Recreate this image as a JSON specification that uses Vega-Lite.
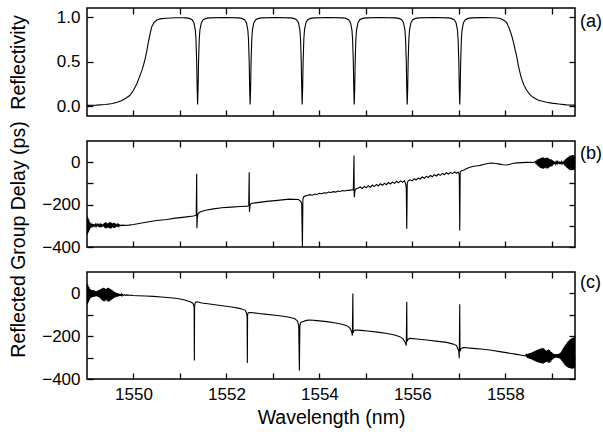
{
"$schema": "https://vega.github.io/schema/vega-lite/v6.json",
"padding": {"left": 7, "top": 6, "right": 0, "bottom": 5},
"background": "white",
"spacing": 25,
"bounds": "flush",
"config": {
  "view": {"stroke": "black", "strokeWidth": 1.5},
  "font": "Liberation Sans",
  "axis": {"grid": false, "domain": false, "tickColor": "black", "tickWidth": 1.3, "tickSize": -6,
    "labelFont": "Liberation Sans", "labelFontSize": 17, "labelColor": "black", "labelPadding": 13,
    "titleFont": "Liberation Sans", "titleFontSize": 19.5, "titleFontWeight": "normal", "titleColor": "black"}
},
"datasets": {
"refl": [
{"wl":1549.00,"r":0.01},{"wl":1549.20,"r":0.012},{"wl":1549.40,"r":0.02},{"wl":1549.55,"r":0.03},{"wl":1549.65,"r":0.045},{"wl":1549.75,"r":0.065},{"wl":1549.85,"r":0.095},{"wl":1549.92,"r":0.12},{"wl":1550.00,"r":0.18},{"wl":1550.07,"r":0.25},{"wl":1550.13,"r":0.33},{"wl":1550.18,"r":0.40},{"wl":1550.22,"r":0.47},{"wl":1550.25,"r":0.53},{"wl":1550.29,"r":0.63},{"wl":1550.32,"r":0.72},{"wl":1550.36,"r":0.82},{"wl":1550.39,"r":0.89},{"wl":1550.44,"r":0.94},{"wl":1550.50,"r":0.97},{"wl":1550.60,"r":0.985},{"wl":1550.72,"r":0.99},{"wl":1550.90,"r":0.995},{"wl":1551.05,"r":0.996},
{"wl":1551.13,"r":0.994},{"wl":1551.20,"r":0.988},{"wl":1551.26,"r":0.973},{"wl":1551.30,"r":0.94},{"wl":1551.33,"r":0.86},{"wl":1551.345,"r":0.75},{"wl":1551.36,"r":0.5},{"wl":1551.37,"r":0.2},{"wl":1551.38,"r":0.02},{"wl":1551.39,"r":0.2},{"wl":1551.40,"r":0.5},{"wl":1551.415,"r":0.75},{"wl":1551.43,"r":0.86},{"wl":1551.46,"r":0.94},{"wl":1551.50,"r":0.973},{"wl":1551.56,"r":0.988},{"wl":1551.63,"r":0.994},{"wl":1551.945,"r":0.998},
{"wl":1552.26,"r":0.994},{"wl":1552.33,"r":0.988},{"wl":1552.39,"r":0.973},{"wl":1552.43,"r":0.94},{"wl":1552.46,"r":0.86},{"wl":1552.475,"r":0.75},{"wl":1552.49,"r":0.5},{"wl":1552.50,"r":0.2},{"wl":1552.51,"r":0.02},{"wl":1552.52,"r":0.2},{"wl":1552.53,"r":0.5},{"wl":1552.545,"r":0.75},{"wl":1552.56,"r":0.86},{"wl":1552.59,"r":0.94},{"wl":1552.63,"r":0.973},{"wl":1552.69,"r":0.988},{"wl":1552.76,"r":0.994},{"wl":1553.07,"r":0.998},
{"wl":1553.38,"r":0.994},{"wl":1553.45,"r":0.988},{"wl":1553.51,"r":0.973},{"wl":1553.55,"r":0.94},{"wl":1553.58,"r":0.86},{"wl":1553.595,"r":0.75},{"wl":1553.61,"r":0.5},{"wl":1553.62,"r":0.2},{"wl":1553.63,"r":0.02},{"wl":1553.64,"r":0.2},{"wl":1553.65,"r":0.5},{"wl":1553.665,"r":0.75},{"wl":1553.68,"r":0.86},{"wl":1553.71,"r":0.94},{"wl":1553.75,"r":0.973},{"wl":1553.81,"r":0.988},{"wl":1553.88,"r":0.994},{"wl":1554.19,"r":0.998},
{"wl":1554.50,"r":0.994},{"wl":1554.57,"r":0.988},{"wl":1554.63,"r":0.973},{"wl":1554.67,"r":0.94},{"wl":1554.70,"r":0.86},{"wl":1554.715,"r":0.75},{"wl":1554.73,"r":0.5},{"wl":1554.74,"r":0.2},{"wl":1554.75,"r":0.02},{"wl":1554.76,"r":0.2},{"wl":1554.77,"r":0.5},{"wl":1554.785,"r":0.75},{"wl":1554.80,"r":0.86},{"wl":1554.83,"r":0.94},{"wl":1554.87,"r":0.973},{"wl":1554.93,"r":0.988},{"wl":1555.00,"r":0.994},{"wl":1555.32,"r":0.998},
{"wl":1555.64,"r":0.994},{"wl":1555.71,"r":0.988},{"wl":1555.77,"r":0.973},{"wl":1555.81,"r":0.94},{"wl":1555.84,"r":0.86},{"wl":1555.855,"r":0.75},{"wl":1555.87,"r":0.5},{"wl":1555.88,"r":0.2},{"wl":1555.89,"r":0.02},{"wl":1555.90,"r":0.2},{"wl":1555.91,"r":0.5},{"wl":1555.925,"r":0.75},{"wl":1555.94,"r":0.86},{"wl":1555.97,"r":0.94},{"wl":1556.01,"r":0.973},{"wl":1556.07,"r":0.988},{"wl":1556.14,"r":0.994},{"wl":1556.455,"r":0.998},
{"wl":1556.77,"r":0.994},{"wl":1556.84,"r":0.988},{"wl":1556.90,"r":0.973},{"wl":1556.94,"r":0.94},{"wl":1556.97,"r":0.86},{"wl":1556.985,"r":0.75},{"wl":1557.00,"r":0.5},{"wl":1557.01,"r":0.2},{"wl":1557.02,"r":0.02},{"wl":1557.03,"r":0.2},{"wl":1557.04,"r":0.5},{"wl":1557.055,"r":0.75},{"wl":1557.07,"r":0.86},{"wl":1557.10,"r":0.94},{"wl":1557.14,"r":0.973},{"wl":1557.20,"r":0.988},{"wl":1557.27,"r":0.994},
{"wl":1557.50,"r":0.997},{"wl":1557.75,"r":0.995},{"wl":1557.88,"r":0.99},{"wl":1557.96,"r":0.97},{"wl":1558.03,"r":0.94},{"wl":1558.09,"r":0.87},{"wl":1558.14,"r":0.79},{"wl":1558.18,"r":0.71},{"wl":1558.21,"r":0.64},{"wl":1558.25,"r":0.55},{"wl":1558.28,"r":0.46},{"wl":1558.32,"r":0.37},{"wl":1558.35,"r":0.31},{"wl":1558.40,"r":0.24},{"wl":1558.46,"r":0.18},{"wl":1558.53,"r":0.13},{"wl":1558.60,"r":0.10},{"wl":1558.70,"r":0.07},{"wl":1558.80,"r":0.055},{"wl":1558.89,"r":0.045},{"wl":1559.00,"r":0.035},{"wl":1559.15,"r":0.025},{"wl":1559.32,"r":0.015},{"wl":1559.50,"r":0.012}
],
"gdb": [
{"wl":1549.00,"gd":-255},{"wl":1549.01,"gd":-340},{"wl":1549.02,"gd":-262},{"wl":1549.03,"gd":-332},{"wl":1549.04,"gd":-270},{"wl":1549.05,"gd":-322},{"wl":1549.06,"gd":-282},{"wl":1549.07,"gd":-312},{"wl":1549.08,"gd":-288},{"wl":1549.09,"gd":-308},{"wl":1549.10,"gd":-290},{"wl":1549.11,"gd":-306},{"wl":1549.12,"gd":-291},{"wl":1549.13,"gd":-305},{"wl":1549.14,"gd":-292},{"wl":1549.15,"gd":-304},{"wl":1549.16,"gd":-293},{"wl":1549.17,"gd":-303},{"wl":1549.18,"gd":-294},{"wl":1549.19,"gd":-302},{"wl":1549.20,"gd":-295},{"wl":1549.21,"gd":-301},{"wl":1549.22,"gd":-294},{"wl":1549.23,"gd":-302},{"wl":1549.24,"gd":-292},{"wl":1549.25,"gd":-304},{"wl":1549.26,"gd":-290},{"wl":1549.27,"gd":-306},{"wl":1549.28,"gd":-289},{"wl":1549.29,"gd":-307},{"wl":1549.30,"gd":-290},{"wl":1549.31,"gd":-306},{"wl":1549.32,"gd":-292},{"wl":1549.33,"gd":-304},{"wl":1549.34,"gd":-294},{"wl":1549.35,"gd":-302},{"wl":1549.36,"gd":-290},{"wl":1549.37,"gd":-306},{"wl":1549.38,"gd":-286},{"wl":1549.39,"gd":-310},{"wl":1549.40,"gd":-284},{"wl":1549.41,"gd":-312},{"wl":1549.42,"gd":-286},{"wl":1549.43,"gd":-310},{"wl":1549.44,"gd":-290},{"wl":1549.45,"gd":-306},{"wl":1549.46,"gd":-287},{"wl":1549.47,"gd":-310},{"wl":1549.48,"gd":-284},{"wl":1549.49,"gd":-313},{"wl":1549.50,"gd":-283},{"wl":1549.51,"gd":-313},{"wl":1549.52,"gd":-285},{"wl":1549.53,"gd":-311},{"wl":1549.54,"gd":-289},{"wl":1549.55,"gd":-307},{"wl":1549.56,"gd":-287},{"wl":1549.57,"gd":-309},{"wl":1549.58,"gd":-286},{"wl":1549.59,"gd":-310},{"wl":1549.60,"gd":-288},{"wl":1549.61,"gd":-308},{"wl":1549.62,"gd":-291},{"wl":1549.63,"gd":-305},{"wl":1549.64,"gd":-293},{"wl":1549.65,"gd":-303},{"wl":1549.66,"gd":-294},{"wl":1549.67,"gd":-302},{"wl":1549.68,"gd":-295},{"wl":1549.69,"gd":-301},{"wl":1549.70,"gd":-296},{"wl":1549.72,"gd":-299},{"wl":1549.75,"gd":-297},{"wl":1549.80,"gd":-298},
{"wl":1549.90,"gd":-297},{"wl":1550.00,"gd":-294},{"wl":1550.15,"gd":-288},{"wl":1550.30,"gd":-282},{"wl":1550.50,"gd":-275},{"wl":1550.72,"gd":-270},{"wl":1550.90,"gd":-264},{"wl":1551.10,"gd":-259},{"wl":1551.29,"gd":-254},{"wl":1551.35,"gd":-250},{"wl":1551.36,"gd":-55},{"wl":1551.365,"gd":-311},{"wl":1551.375,"gd":-260},{"wl":1551.39,"gd":-242},{"wl":1551.43,"gd":-235},{"wl":1551.55,"gd":-227},{"wl":1551.72,"gd":-220},{"wl":1551.90,"gd":-215},{"wl":1552.10,"gd":-212},{"wl":1552.30,"gd":-209},{"wl":1552.45,"gd":-207},{"wl":1552.48,"gd":-205},{"wl":1552.49,"gd":-47},{"wl":1552.495,"gd":-235},{"wl":1552.51,"gd":-200},{"wl":1552.55,"gd":-194},{"wl":1552.62,"gd":-192},{"wl":1552.87,"gd":-185},{"wl":1553.10,"gd":-180},{"wl":1553.35,"gd":-174},{"wl":1553.55,"gd":-176},{"wl":1553.60,"gd":-185},{"wl":1553.62,"gd":-196},{"wl":1553.635,"gd":-400},{"wl":1553.645,"gd":-175},{"wl":1553.66,"gd":-164},{"wl":1553.69,"gd":-160},{"wl":1553.75,"gd":-156},{"wl":1553.80,"gd":-153},{"wl":1553.85,"gd":-156},{"wl":1553.90,"gd":-150},{"wl":1553.95,"gd":-152},{"wl":1554.00,"gd":-147},{"wl":1554.05,"gd":-149},{"wl":1554.10,"gd":-144},{"wl":1554.15,"gd":-146},{"wl":1554.20,"gd":-141},{"wl":1554.25,"gd":-143},{"wl":1554.30,"gd":-139},{"wl":1554.35,"gd":-141},{"wl":1554.40,"gd":-136},{"wl":1554.45,"gd":-138},{"wl":1554.50,"gd":-134},{"wl":1554.55,"gd":-136},{"wl":1554.60,"gd":-132},{"wl":1554.65,"gd":-133},{"wl":1554.70,"gd":-130},{"wl":1554.73,"gd":-131},{"wl":1554.745,"gd":31},{"wl":1554.75,"gd":-165},{"wl":1554.765,"gd":-135},{"wl":1554.79,"gd":-125},{"wl":1554.84,"gd":-122},
{"wl":1554.88,"gd":-117},{"wl":1554.92,"gd":-124},{"wl":1554.97,"gd":-114},{"wl":1555.01,"gd":-121},{"wl":1555.05,"gd":-111},{"wl":1555.10,"gd":-118},{"wl":1555.14,"gd":-108},{"wl":1555.18,"gd":-115},{"wl":1555.23,"gd":-105},{"wl":1555.27,"gd":-112},{"wl":1555.31,"gd":-102},{"wl":1555.36,"gd":-109},{"wl":1555.40,"gd":-99},{"wl":1555.44,"gd":-106},{"wl":1555.49,"gd":-96},{"wl":1555.53,"gd":-103},{"wl":1555.57,"gd":-93},{"wl":1555.62,"gd":-100},{"wl":1555.66,"gd":-90},{"wl":1555.70,"gd":-97},{"wl":1555.75,"gd":-88},{"wl":1555.79,"gd":-95},{"wl":1555.83,"gd":-87},{"wl":1555.86,"gd":-105},{"wl":1555.87,"gd":-125},{"wl":1555.88,"gd":-314},{"wl":1555.89,"gd":-100},{"wl":1555.91,"gd":-88},{"wl":1555.95,"gd":-83},
{"wl":1556.00,"gd":-88},{"wl":1556.04,"gd":-78},{"wl":1556.08,"gd":-84},{"wl":1556.13,"gd":-74},{"wl":1556.17,"gd":-80},{"wl":1556.21,"gd":-70},{"wl":1556.26,"gd":-76},{"wl":1556.30,"gd":-66},{"wl":1556.34,"gd":-72},{"wl":1556.39,"gd":-63},{"wl":1556.43,"gd":-69},{"wl":1556.47,"gd":-59},{"wl":1556.52,"gd":-65},{"wl":1556.56,"gd":-56},{"wl":1556.60,"gd":-62},{"wl":1556.65,"gd":-53},{"wl":1556.69,"gd":-59},{"wl":1556.73,"gd":-50},{"wl":1556.78,"gd":-56},{"wl":1556.82,"gd":-48},{"wl":1556.86,"gd":-54},{"wl":1556.91,"gd":-46},{"wl":1556.95,"gd":-51},{"wl":1556.99,"gd":-47},{"wl":1557.01,"gd":-60},{"wl":1557.02,"gd":-322},{"wl":1557.03,"gd":-45},{"wl":1557.06,"gd":-40},{"wl":1557.10,"gd":-38},{"wl":1557.17,"gd":-30},{"wl":1557.24,"gd":-24},{"wl":1557.32,"gd":-19},{"wl":1557.40,"gd":-17},{"wl":1557.46,"gd":-15},{"wl":1557.55,"gd":-10},{"wl":1557.62,"gd":-6},{"wl":1557.70,"gd":-4},{"wl":1557.80,"gd":-6},{"wl":1557.88,"gd":-9},{"wl":1557.95,"gd":-12},{"wl":1558.03,"gd":-13},{"wl":1558.10,"gd":-10},{"wl":1558.18,"gd":-5},{"wl":1558.25,"gd":-3},{"wl":1558.35,"gd":-2},{"wl":1558.45,"gd":-1},{"wl":1558.53,"gd":0},{"wl":1558.60,"gd":-2},
{"wl":1558.65,"gd":4},{"wl":1558.66,"gd":-8},{"wl":1558.67,"gd":8},{"wl":1558.68,"gd":-12},{"wl":1558.69,"gd":12},{"wl":1558.70,"gd":-16},{"wl":1558.71,"gd":14},{"wl":1558.72,"gd":-20},{"wl":1558.73,"gd":16},{"wl":1558.74,"gd":-24},{"wl":1558.75,"gd":18},{"wl":1558.76,"gd":-27},{"wl":1558.77,"gd":20},{"wl":1558.78,"gd":-29},{"wl":1558.79,"gd":22},{"wl":1558.80,"gd":-30},{"wl":1558.81,"gd":23},{"wl":1558.82,"gd":-31},{"wl":1558.83,"gd":21},{"wl":1558.84,"gd":-28},{"wl":1558.85,"gd":18},{"wl":1558.86,"gd":-25},{"wl":1558.87,"gd":20},{"wl":1558.88,"gd":-28},{"wl":1558.89,"gd":22},{"wl":1558.90,"gd":-30},{"wl":1558.91,"gd":21},{"wl":1558.92,"gd":-28},{"wl":1558.93,"gd":18},{"wl":1558.94,"gd":-25},{"wl":1558.95,"gd":15},{"wl":1558.96,"gd":-22},{"wl":1558.97,"gd":12},{"wl":1558.98,"gd":-18},{"wl":1558.99,"gd":14},{"wl":1559.00,"gd":-20},{"wl":1559.01,"gd":10},{"wl":1559.02,"gd":-15},{"wl":1559.03,"gd":6},{"wl":1559.04,"gd":-11},{"wl":1559.05,"gd":3},{"wl":1559.06,"gd":-8},{"wl":1559.07,"gd":2},{"wl":1559.08,"gd":-7},{"wl":1559.09,"gd":1},{"wl":1559.10,"gd":-6},{"wl":1559.11,"gd":1},{"wl":1559.12,"gd":-6},{"wl":1559.13,"gd":2},{"wl":1559.14,"gd":-7},{"wl":1559.15,"gd":2},{"wl":1559.16,"gd":-8},{"wl":1559.17,"gd":3},{"wl":1559.18,"gd":-9},{"wl":1559.19,"gd":2},{"wl":1559.20,"gd":-8},{"wl":1559.21,"gd":1},{"wl":1559.22,"gd":-7},{"wl":1559.23,"gd":2},{"wl":1559.24,"gd":-8},{"wl":1559.25,"gd":4},{"wl":1559.26,"gd":-11},{"wl":1559.27,"gd":8},{"wl":1559.28,"gd":-15},{"wl":1559.29,"gd":12},{"wl":1559.30,"gd":-20},{"wl":1559.31,"gd":16},{"wl":1559.32,"gd":-25},{"wl":1559.33,"gd":20},{"wl":1559.34,"gd":-29},{"wl":1559.35,"gd":24},{"wl":1559.36,"gd":-32},{"wl":1559.37,"gd":27},{"wl":1559.38,"gd":-35},{"wl":1559.39,"gd":30},{"wl":1559.40,"gd":-37},{"wl":1559.41,"gd":32},{"wl":1559.42,"gd":-38},{"wl":1559.43,"gd":33},{"wl":1559.44,"gd":-38},{"wl":1559.45,"gd":34},{"wl":1559.46,"gd":-37},{"wl":1559.47,"gd":33},{"wl":1559.48,"gd":-36},{"wl":1559.49,"gd":30},{"wl":1559.50,"gd":-32}
],
"gdc": [
{"wl":1549.00,"gd":45},{"wl":1549.01,"gd":-50},{"wl":1549.02,"gd":40},{"wl":1549.03,"gd":-42},{"wl":1549.04,"gd":30},{"wl":1549.05,"gd":-32},{"wl":1549.06,"gd":22},{"wl":1549.07,"gd":-24},{"wl":1549.08,"gd":18},{"wl":1549.09,"gd":-20},{"wl":1549.10,"gd":16},{"wl":1549.11,"gd":-18},{"wl":1549.12,"gd":15},{"wl":1549.13,"gd":-17},{"wl":1549.14,"gd":14},{"wl":1549.15,"gd":-16},{"wl":1549.16,"gd":13},{"wl":1549.17,"gd":-15},{"wl":1549.18,"gd":11},{"wl":1549.19,"gd":-13},{"wl":1549.20,"gd":10},{"wl":1549.21,"gd":-13},{"wl":1549.22,"gd":12},{"wl":1549.23,"gd":-15},{"wl":1549.24,"gd":14},{"wl":1549.25,"gd":-17},{"wl":1549.26,"gd":16},{"wl":1549.27,"gd":-20},{"wl":1549.28,"gd":18},{"wl":1549.29,"gd":-24},{"wl":1549.30,"gd":20},{"wl":1549.31,"gd":-28},{"wl":1549.32,"gd":23},{"wl":1549.33,"gd":-32},{"wl":1549.34,"gd":25},{"wl":1549.35,"gd":-36},{"wl":1549.36,"gd":26},{"wl":1549.37,"gd":-38},{"wl":1549.38,"gd":24},{"wl":1549.39,"gd":-34},{"wl":1549.40,"gd":20},{"wl":1549.41,"gd":-30},{"wl":1549.42,"gd":22},{"wl":1549.43,"gd":-34},{"wl":1549.44,"gd":25},{"wl":1549.45,"gd":-38},{"wl":1549.46,"gd":26},{"wl":1549.47,"gd":-39},{"wl":1549.48,"gd":24},{"wl":1549.49,"gd":-36},{"wl":1549.50,"gd":21},{"wl":1549.51,"gd":-32},{"wl":1549.52,"gd":18},{"wl":1549.53,"gd":-29},{"wl":1549.54,"gd":15},{"wl":1549.55,"gd":-26},{"wl":1549.56,"gd":12},{"wl":1549.57,"gd":-23},{"wl":1549.58,"gd":9},{"wl":1549.59,"gd":-20},{"wl":1549.60,"gd":6},{"wl":1549.61,"gd":-18},{"wl":1549.62,"gd":4},{"wl":1549.63,"gd":-16},{"wl":1549.64,"gd":2},{"wl":1549.65,"gd":-15},{"wl":1549.66,"gd":0},{"wl":1549.67,"gd":-14},{"wl":1549.68,"gd":-1},{"wl":1549.69,"gd":-13},{"wl":1549.70,"gd":-2},{"wl":1549.71,"gd":-12},{"wl":1549.72,"gd":-3},{"wl":1549.73,"gd":-12},{"wl":1549.74,"gd":-4},{"wl":1549.75,"gd":-11},{"wl":1549.76,"gd":-5},{"wl":1549.78,"gd":-10},{"wl":1549.80,"gd":-6},{"wl":1549.83,"gd":-9},{"wl":1549.86,"gd":-7},{"wl":1549.90,"gd":-8},
{"wl":1550.00,"gd":-10},{"wl":1550.10,"gd":-11},{"wl":1550.25,"gd":-12},{"wl":1550.43,"gd":-14},{"wl":1550.60,"gd":-17},{"wl":1550.79,"gd":-20},{"wl":1550.90,"gd":-23},{"wl":1551.00,"gd":-26},{"wl":1551.08,"gd":-30},{"wl":1551.15,"gd":-34},{"wl":1551.22,"gd":-39},{"wl":1551.27,"gd":-45},{"wl":1551.29,"gd":-51},{"wl":1551.305,"gd":-65},{"wl":1551.31,"gd":-314},{"wl":1551.315,"gd":-60},{"wl":1551.33,"gd":-42},{"wl":1551.37,"gd":-39},{"wl":1551.47,"gd":-45},{"wl":1551.60,"gd":-48},{"wl":1551.79,"gd":-54},{"wl":1551.95,"gd":-59},{"wl":1552.15,"gd":-65},{"wl":1552.30,"gd":-71},{"wl":1552.40,"gd":-78},{"wl":1552.43,"gd":-90},{"wl":1552.445,"gd":-109},{"wl":1552.45,"gd":-325},{"wl":1552.455,"gd":-100},{"wl":1552.47,"gd":-90},{"wl":1552.52,"gd":-89},{"wl":1552.70,"gd":-94},{"wl":1552.87,"gd":-98},{"wl":1553.05,"gd":-102},{"wl":1553.22,"gd":-107},{"wl":1553.38,"gd":-113},{"wl":1553.48,"gd":-120},{"wl":1553.53,"gd":-130},{"wl":1553.555,"gd":-148},{"wl":1553.57,"gd":-360},{"wl":1553.58,"gd":-150},{"wl":1553.60,"gd":-136},{"wl":1553.64,"gd":-132},{"wl":1553.72,"gd":-126},{"wl":1553.80,"gd":-124},{"wl":1553.95,"gd":-127},{"wl":1554.16,"gd":-132},{"wl":1554.35,"gd":-138},{"wl":1554.51,"gd":-145},{"wl":1554.60,"gd":-152},{"wl":1554.66,"gd":-163},{"wl":1554.695,"gd":-180},{"wl":1554.71,"gd":-197},{"wl":1554.72,"gd":0},{"wl":1554.725,"gd":-185},{"wl":1554.74,"gd":-175},{"wl":1554.78,"gd":-171},{"wl":1554.90,"gd":-173},{"wl":1555.03,"gd":-176},{"wl":1555.25,"gd":-181},{"wl":1555.46,"gd":-187},{"wl":1555.62,"gd":-194},{"wl":1555.73,"gd":-202},{"wl":1555.80,"gd":-212},{"wl":1555.85,"gd":-230},{"wl":1555.87,"gd":-244},{"wl":1555.88,"gd":-39},{"wl":1555.885,"gd":-225},{"wl":1555.91,"gd":-214},{"wl":1555.95,"gd":-210},{"wl":1556.10,"gd":-213},{"wl":1556.31,"gd":-218},{"wl":1556.55,"gd":-224},{"wl":1556.74,"gd":-229},{"wl":1556.88,"gd":-237},{"wl":1556.95,"gd":-244},{"wl":1557.00,"gd":-270},{"wl":1557.01,"gd":-303},{"wl":1557.02,"gd":-51},{"wl":1557.025,"gd":-270},{"wl":1557.05,"gd":-257},{"wl":1557.10,"gd":-253},{"wl":1557.30,"gd":-257},{"wl":1557.53,"gd":-261},{"wl":1557.70,"gd":-266},{"wl":1557.88,"gd":-272},{"wl":1558.05,"gd":-278},{"wl":1558.25,"gd":-285},{"wl":1558.35,"gd":-289},{"wl":1558.42,"gd":-292},
{"wl":1558.45,"gd":-285},{"wl":1558.46,"gd":-298},{"wl":1558.47,"gd":-283},{"wl":1558.48,"gd":-301},{"wl":1558.49,"gd":-282},{"wl":1558.50,"gd":-303},{"wl":1558.51,"gd":-280},{"wl":1558.52,"gd":-305},{"wl":1558.53,"gd":-279},{"wl":1558.54,"gd":-306},{"wl":1558.55,"gd":-278},{"wl":1558.56,"gd":-308},{"wl":1558.57,"gd":-276},{"wl":1558.58,"gd":-310},{"wl":1558.59,"gd":-274},{"wl":1558.60,"gd":-312},{"wl":1558.61,"gd":-272},{"wl":1558.62,"gd":-314},{"wl":1558.63,"gd":-270},{"wl":1558.64,"gd":-316},{"wl":1558.65,"gd":-268},{"wl":1558.66,"gd":-318},{"wl":1558.67,"gd":-266},{"wl":1558.68,"gd":-320},{"wl":1558.69,"gd":-263},{"wl":1558.70,"gd":-322},{"wl":1558.71,"gd":-262},{"wl":1558.72,"gd":-323},{"wl":1558.73,"gd":-261},{"wl":1558.74,"gd":-324},{"wl":1558.75,"gd":-259},{"wl":1558.76,"gd":-325},{"wl":1558.77,"gd":-258},{"wl":1558.78,"gd":-326},{"wl":1558.79,"gd":-256},{"wl":1558.80,"gd":-327},{"wl":1558.81,"gd":-255},{"wl":1558.82,"gd":-327},{"wl":1558.83,"gd":-258},{"wl":1558.84,"gd":-325},{"wl":1558.85,"gd":-262},{"wl":1558.86,"gd":-322},{"wl":1558.87,"gd":-266},{"wl":1558.88,"gd":-320},{"wl":1558.89,"gd":-268},{"wl":1558.90,"gd":-318},{"wl":1558.91,"gd":-265},{"wl":1558.92,"gd":-322},{"wl":1558.93,"gd":-262},{"wl":1558.94,"gd":-325},{"wl":1558.95,"gd":-265},{"wl":1558.96,"gd":-322},{"wl":1558.97,"gd":-270},{"wl":1558.98,"gd":-318},{"wl":1558.99,"gd":-274},{"wl":1559.00,"gd":-312},{"wl":1559.01,"gd":-278},{"wl":1559.02,"gd":-308},{"wl":1559.03,"gd":-281},{"wl":1559.04,"gd":-305},{"wl":1559.05,"gd":-283},{"wl":1559.06,"gd":-302},{"wl":1559.07,"gd":-284},{"wl":1559.08,"gd":-300},{"wl":1559.09,"gd":-285},{"wl":1559.10,"gd":-300},{"wl":1559.11,"gd":-284},{"wl":1559.12,"gd":-301},{"wl":1559.13,"gd":-283},{"wl":1559.14,"gd":-302},{"wl":1559.15,"gd":-282},{"wl":1559.16,"gd":-303},{"wl":1559.17,"gd":-280},{"wl":1559.18,"gd":-306},{"wl":1559.19,"gd":-276},{"wl":1559.20,"gd":-310},{"wl":1559.21,"gd":-270},{"wl":1559.22,"gd":-316},{"wl":1559.23,"gd":-262},{"wl":1559.24,"gd":-322},{"wl":1559.25,"gd":-255},{"wl":1559.26,"gd":-328},{"wl":1559.27,"gd":-248},{"wl":1559.28,"gd":-333},{"wl":1559.29,"gd":-242},{"wl":1559.30,"gd":-338},{"wl":1559.31,"gd":-236},{"wl":1559.32,"gd":-342},{"wl":1559.33,"gd":-230},{"wl":1559.34,"gd":-345},{"wl":1559.35,"gd":-225},{"wl":1559.36,"gd":-347},{"wl":1559.37,"gd":-220},{"wl":1559.38,"gd":-349},{"wl":1559.39,"gd":-216},{"wl":1559.40,"gd":-350},{"wl":1559.41,"gd":-213},{"wl":1559.42,"gd":-351},{"wl":1559.43,"gd":-210},{"wl":1559.44,"gd":-352},{"wl":1559.45,"gd":-208},{"wl":1559.46,"gd":-351},{"wl":1559.47,"gd":-206},{"wl":1559.48,"gd":-350},{"wl":1559.49,"gd":-204},{"wl":1559.50,"gd":-348}
],
"panels": [{"panel": "(a)"}]
},
"vconcat": [
{
  "width": 488, "height": 108,
  "layer": [
    {"data": {"name": "refl"},
     "mark": {"type": "line", "color": "black", "strokeWidth": 1.1, "clip": true},
     "encoding": {
       "x": {"field": "wl", "type": "quantitative", "scale": {"domain": [1549, 1559.5], "nice": false, "zero": false},
             "axis": {"values": [1550,1551,1552,1553,1554,1555,1556,1557,1558,1559], "labels": false, "title": null}},
       "y": {"field": "r", "type": "quantitative", "scale": {"domain": [-0.11, 1.105], "nice": false, "zero": false},
             "axis": {"values": [0, 0.5, 1], "format": ".1f", "title": "Reflectivity", "titleX": -59, "titleBaseline": "bottom"}}}},
    {"data": {"name": "refl"},
     "mark": {"type": "point", "opacity": 0},
     "encoding": {
       "x": {"field": "wl", "type": "quantitative", "axis": {"orient": "top", "values": [1550,1551,1552,1553,1554,1555,1556,1557,1558,1559], "labels": false, "title": null}},
       "y": {"field": "r", "type": "quantitative", "axis": {"orient": "right", "values": [0, 0.5, 1], "labels": false, "title": null}}}},
    {"data": {"values": [{"panel": "(a)"}]},
     "mark": {"type": "text", "align": "left", "baseline": "middle", "dx": 5, "fill": "black", "fontSize": 18, "font": "Liberation Sans", "fontWeight": "normal"},
     "encoding": {"x": {"datum": 1559.5, "axis": null}, "y": {"datum": 0.95, "axis": null}, "text": {"field": "panel"}}}
  ],
  "resolve": {"axis": {"x": "independent", "y": "independent"}}
},
{
  "width": 488, "height": 106,
  "layer": [
    {"data": {"name": "gdb"},
     "mark": {"type": "line", "color": "black", "strokeWidth": 1.1, "clip": true},
     "encoding": {
       "x": {"field": "wl", "type": "quantitative", "scale": {"domain": [1549, 1559.5], "nice": false, "zero": false},
             "axis": {"values": [1550,1551,1552,1553,1554,1555,1556,1557,1558,1559], "labels": false, "title": null}},
       "y": {"field": "gd", "type": "quantitative", "scale": {"domain": [-400, 100], "nice": false, "zero": false},
             "axis": {"values": [-400,-300,-200,-100,0], "labelExpr": "datum.value % 200 == 0 ? datum.label : ''", "title": "Reflected Group Delay (ps)", "titleX": -59, "titleY": 98, "titleBaseline": "bottom"}}}},
    {"data": {"name": "gdb"},
     "mark": {"type": "point", "opacity": 0},
     "encoding": {
       "x": {"field": "wl", "type": "quantitative", "axis": {"orient": "top", "values": [1550,1551,1552,1553,1554,1555,1556,1557,1558,1559], "labels": false, "title": null}},
       "y": {"field": "gd", "type": "quantitative", "axis": {"orient": "right", "values": [-400,-300,-200,-100,0], "labels": false, "title": null}}}},
    {"data": {"values": [{"panel": "(b)"}]},
     "mark": {"type": "text", "align": "left", "baseline": "middle", "dx": 5, "fill": "black", "fontSize": 18, "font": "Liberation Sans", "fontWeight": "normal"},
     "encoding": {"x": {"datum": 1559.5, "axis": null}, "y": {"datum": 39, "axis": null}, "text": {"field": "panel"}}}
  ],
  "resolve": {"axis": {"x": "independent", "y": "independent"}}
},
{
  "width": 488, "height": 107,
  "layer": [
    {"data": {"name": "gdc"},
     "mark": {"type": "line", "color": "black", "strokeWidth": 1.1, "clip": true},
     "encoding": {
       "x": {"field": "wl", "type": "quantitative", "scale": {"domain": [1549, 1559.5], "nice": false, "zero": false},
             "axis": {"values": [1550,1551,1552,1553,1554,1555,1556,1557,1558,1559], "format": "d", "labelExpr": "datum.value % 2 == 0 ? datum.label : ''", "title": "Wavelength (nm)", "titlePadding": 6}},
       "y": {"field": "gd", "type": "quantitative", "scale": {"domain": [-400, 100], "nice": false, "zero": false},
             "axis": {"values": [-400,-300,-200,-100,0], "labelExpr": "datum.value % 200 == 0 ? datum.label : ''", "title": null}}}},
    {"data": {"name": "gdc"},
     "mark": {"type": "point", "opacity": 0},
     "encoding": {
       "x": {"field": "wl", "type": "quantitative", "axis": {"orient": "top", "values": [1550,1551,1552,1553,1554,1555,1556,1557,1558,1559], "labels": false, "title": null}},
       "y": {"field": "gd", "type": "quantitative", "axis": {"orient": "right", "values": [-400,-300,-200,-100,0], "labels": false, "title": null}}}},
    {"data": {"values": [{"panel": "(c)"}]},
     "mark": {"type": "text", "align": "left", "baseline": "middle", "dx": 5, "fill": "black", "fontSize": 18, "font": "Liberation Sans", "fontWeight": "normal"},
     "encoding": {"x": {"datum": 1559.5, "axis": null}, "y": {"datum": 47, "axis": null}, "text": {"field": "panel"}}}
  ],
  "resolve": {"axis": {"x": "independent", "y": "independent"}}
}
]
}
